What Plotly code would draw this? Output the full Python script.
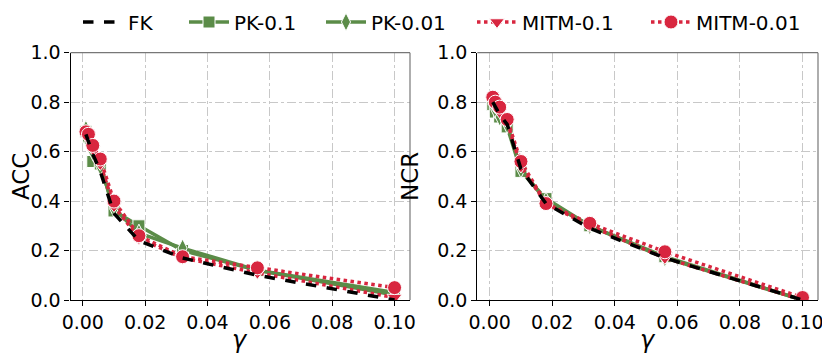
import plotly.graph_objects as go
from plotly.subplots import make_subplots

gamma = [0.001, 0.0018, 0.0032, 0.0056, 0.01, 0.018, 0.032, 0.056, 0.1]

acc_fk = [0.67, 0.64, 0.59, 0.52, 0.35, 0.24, 0.17, 0.10, 0.0]
acc_pk_01 = [0.68, 0.66, 0.56, 0.55, 0.36, 0.30, 0.20, 0.12, 0.03]
acc_pk_001 = [0.69, 0.64, 0.60, 0.54, 0.37, 0.27, 0.21, 0.12, 0.02]
acc_mitm_01 = [0.67, 0.65, 0.61, 0.55, 0.38, 0.25, 0.17, 0.11, 0.01]
acc_mitm_001 = [0.68, 0.67, 0.625, 0.57, 0.40, 0.26, 0.175, 0.13, 0.05]

ncr_fk = [0.80, 0.78, 0.75, 0.71, 0.53, 0.39, 0.29, 0.17, 0.0]
ncr_pk_01 = [0.79, 0.76, 0.74, 0.70, 0.52, 0.41, 0.30, 0.175, 0.0]
ncr_pk_001 = [0.80, 0.77, 0.74, 0.71, 0.53, 0.40, 0.30, 0.17, 0.0]
ncr_mitm_01 = [0.81, 0.78, 0.76, 0.72, 0.54, 0.39, 0.30, 0.17, 0.0]
ncr_mitm_001 = [0.82, 0.80, 0.78, 0.73, 0.56, 0.39, 0.31, 0.195, 0.01]

x_ticks = [0.0, 0.02, 0.04, 0.06, 0.08, 0.10]
x_tick_labels = ['0.00', '0.02', '0.04', '0.06', '0.08', '0.10']
y_ticks = [0.0, 0.2, 0.4, 0.6, 0.8, 1.0]
y_tick_labels = ['0.0', '0.2', '0.4', '0.6', '0.8', '1.0']

green = '#5b8c48'
red = '#d8263f'
font = 'DejaVu Sans'

# the page body has an 8px margin, so the figure is 822x352
W, H = 822, 352

# one legend per entry so each can sit where the reference has it
legend_x = {'legend': 70, 'legend2': 176, 'legend3': 313, 'legend4': 464, 'legend5': 638}

# drawn bottom to top: PK, MITM, then FK on top
styles = [
    ('PK-0.1', acc_pk_01, ncr_pk_01, green, 'solid', 'square', 12, 'legend2'),
    ('PK-0.01', acc_pk_001, ncr_pk_001, green, 'solid', 'diamond-tall', 13, 'legend3'),
    ('MITM-0.1', acc_mitm_01, ncr_mitm_01, red, 'dot', 'triangle-down', 13, 'legend4'),
    ('MITM-0.01', acc_mitm_001, ncr_mitm_001, red, 'dot', 'circle', 14, 'legend5'),
]

fig = make_subplots(rows = 1, cols = 2)

for name, acc, ncr, color, dash, symbol, size, legend in styles:
    for col, values in [(1, acc), (2, ncr)]:
        fig.add_trace(go.Scatter(
            x = gamma,
            y = values,
            name = name,
            mode = 'lines+markers',
            line = {'color': color, 'width': 3.5, 'dash': dash},
            marker = {
                'symbol': symbol,
                'size': size,
                'color': color,
                'line': {'color': 'white', 'width': 1},
            },
            legend = legend,
            showlegend = col == 1,
        ), row = 1, col = col)

for col, values in [(1, acc_fk), (2, ncr_fk)]:
    fig.add_trace(go.Scatter(
        x = gamma,
        y = values,
        name = 'FK',
        mode = 'lines',
        line = {'color': 'black', 'width': 3.5, 'dash': 'dash'},
        legend = 'legend',
        showlegend = col == 1,
    ), row = 1, col = col)

axis_common = {
    'showline': True,
    'linecolor': 'black',
    'linewidth': 1.2,
    'ticks': 'outside',
    'ticklen': 5,
    'tickwidth': 1,
    'tickcolor': 'black',
    'showgrid': True,
    'gridcolor': '#c8c8c8',
    'griddash': 'dashdot',
    'gridwidth': 1,
    'zeroline': False,
    'tickfont': {'size': 19, 'color': 'black', 'family': font},
}

x_domains = [[62.5 / W, 402 / W], [469.3 / W, 810 / W]]
y_domain = [1 - 292 / H, 1 - 44.7 / H]

for col in [1, 2]:
    fig.update_xaxes(
        axis_common,
        domain = x_domains[col - 1],
        range = [-0.00395, 0.10495],
        tickvals = x_ticks,
        ticktext = x_tick_labels,
        row = 1, col = col,
    )
    fig.update_yaxes(
        axis_common,
        domain = y_domain,
        range = [0, 1],
        tickvals = y_ticks,
        ticktext = y_tick_labels,
        title = {'text': 'ACC' if col == 1 else 'NCR', 'font': {'size': 23, 'family': font, 'color': 'black'}, 'standoff': 12},
        row = 1, col = col,
    )
    xd = x_domains[col - 1]
    fig.add_annotation(
        text = '<i>γ</i>', xref = 'paper', yref = 'paper',
        x = (xd[0] + xd[1]) / 2, y = 20 / H,
        xanchor = 'center', yanchor = 'middle', showarrow = False,
        font = {'size': 24, 'family': font, 'color': 'black'},
    )
    # top and right spines in grey
    fig.add_shape(type = 'line', xref = 'paper', yref = 'paper',
                  x0 = xd[0], x1 = xd[1], y0 = y_domain[1], y1 = y_domain[1],
                  line = {'color': '#777777', 'width': 1.2})
    fig.add_shape(type = 'line', xref = 'paper', yref = 'paper',
                  x0 = xd[1], x1 = xd[1], y0 = y_domain[0], y1 = y_domain[1],
                  line = {'color': '#777777', 'width': 1.2})

legend_style = {
    'orientation': 'h',
    'xanchor': 'left',
    'y': 1 - 14 / H,
    'yanchor': 'middle',
    'font': {'size': 20, 'family': font},
    'itemwidth': 40,
    'bgcolor': 'rgba(0,0,0,0)',
}

fig.update_layout(
    width = W,
    height = H,
    margin = {'l': 0, 'r': 0, 't': 0, 'b': 0, 'autoexpand': False},
    plot_bgcolor = 'white',
    paper_bgcolor = 'white',
    font = {'family': font, 'color': 'black'},
    **{key: dict(legend_style, x = px / W) for key, px in legend_x.items()},
)

fig.write_html("out.html")
